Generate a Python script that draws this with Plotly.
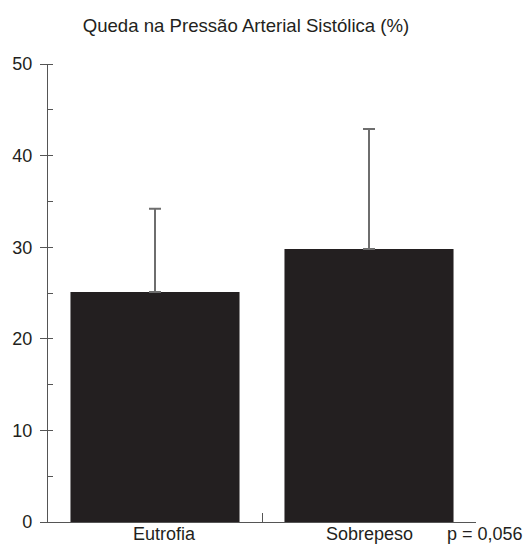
import plotly.graph_objects as go

categories = ["Eutrofia", "Sobrepeso"]
values = [25.1, 29.8]
errors_up = [9.1, 13.1]
y_ticks = [0, 10, 20, 30, 40, 50]
title_text = "Queda na Pressão Arterial Sistólica (%)"
p_text = "p = 0,056"

FONT = "Liberation Sans, Arial, Helvetica, sans-serif"
AX = "#555555"
TXT = "#231f20"
W, H = 528, 551
L, R, T, B = 45, 52, 64, 29
FS = 18

fig = go.Figure()
fig.add_trace(go.Bar(
    x=categories, y=values,
    marker=dict(color="#231f20", line=dict(width=0)),
    error_y=dict(type="data", symmetric=False, array=errors_up,
                 arrayminus=[0] * len(values),
                 color="#6e6e6e", thickness=2, width=6),
    width=0.79,
    showlegend=False,
))
# invisible trace to host the overlay axis that draws the inner half of major ticks
fig.add_trace(go.Scatter(x=categories, y=values, yaxis="y2", mode="markers",
                         marker=dict(opacity=0), hoverinfo="skip", showlegend=False))

fig.update_layout(
    width=W, height=H,
    margin=dict(l=L, r=R, t=T, b=B),
    plot_bgcolor="white", paper_bgcolor="white",
    font=dict(family=FONT, size=FS, color=TXT),
    title=dict(text=title_text, xref="container", yref="container",
               x=246 / W, y=1 - 25 / H, xanchor="center", yanchor="middle",
               font=dict(family=FONT, size=18.6, color=TXT)),
    xaxis=dict(
        type="category", range=[-0.5, 1.5],
        showline=True, linecolor=AX, linewidth=1.3,
        ticks="inside", ticklen=9, tickcolor=AX, tickwidth=1.3,
        tickson="boundaries", showticklabels=False,
        showgrid=False, zeroline=False, fixedrange=True,
    ),
    yaxis=dict(
        range=[0, 50], tickvals=y_ticks,
        showline=True, linecolor=AX, linewidth=1.3,
        ticks="outside", ticklen=7, tickcolor=AX, tickwidth=1.3,
        tickfont=dict(family=FONT, size=FS, color=TXT),
        ticklabelstandoff=4,
        minor=dict(dtick=5, tick0=5, ticks="inside", ticklen=5, tickcolor=AX,
                   tickwidth=1.3, showgrid=False),
        showgrid=False, zeroline=False, fixedrange=True,
    ),
    yaxis2=dict(
        overlaying="y", side="left", range=[0, 50], tickvals=y_ticks,
        ticks="inside", ticklen=5, tickcolor=AX, tickwidth=1.3,
        showticklabels=False, showline=False, showgrid=False, zeroline=False,
        fixedrange=True,
    ),
    bargap=0.2,
)

label_y = -12 / (H - T - B)
for i, c in enumerate(categories):
    fig.add_annotation(x=c, y=label_y, xref="x", yref="paper", text=c,
                       showarrow=False, xanchor="center", yanchor="middle",
                       xshift=9 if i == 0 else 0,
                       font=dict(family=FONT, size=FS, color=TXT))
fig.add_annotation(x=(485.5 - L) / (W - L - R), y=label_y, xref="paper", yref="paper",
                   text=p_text, showarrow=False, xanchor="center", yanchor="middle",
                   font=dict(family=FONT, size=FS, color=TXT))

fig.write_html("out.html", config={"displayModeBar": False},
               post_script="document.body.style.margin='0';document.body.style.overflow='hidden';")
